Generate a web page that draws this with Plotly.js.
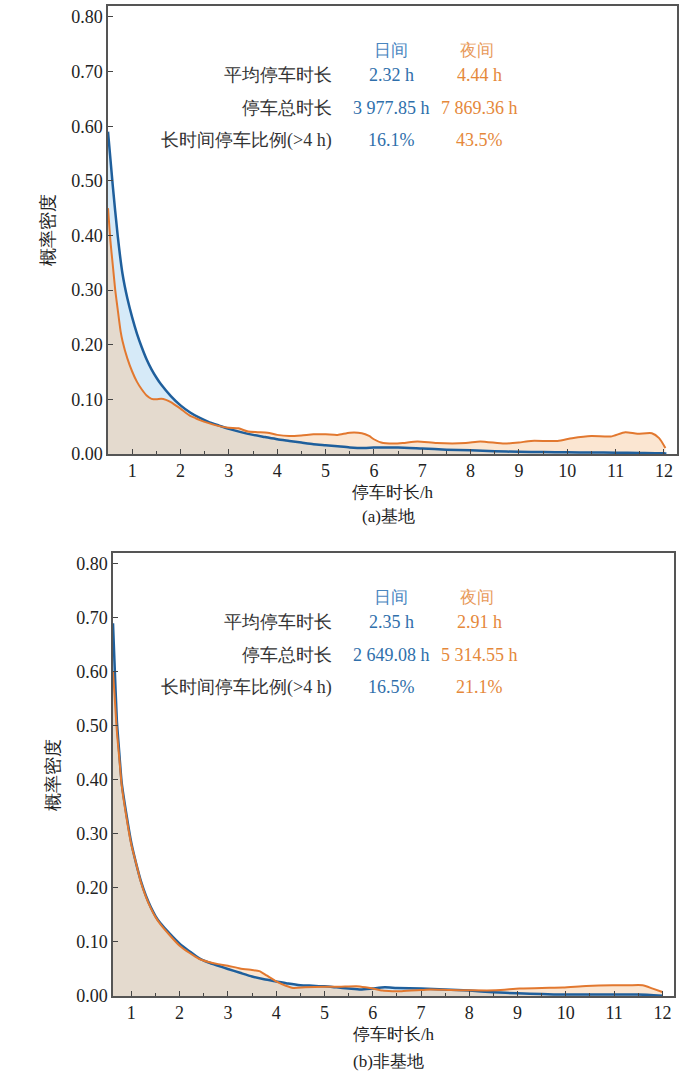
<!DOCTYPE html>
<html>
<head>
<meta charset="utf-8">
<script src="https://cdn.plot.ly/plotly-3.0.1.min.js"></script>
<style>
  html, body { margin: 0; padding: 0; background: #fff; font-family: "Liberation Serif", serif; }
  #chart { width: 700px; height: 1077px; }
</style>
</head>
<body>
<div id="chart"></div>
<script>
// (a) 基地
const baseDayX = [0.5, 0.6, 0.7, 0.8, 0.9, 1.0, 1.1, 1.2, 1.3, 1.4, 1.5, 1.6, 1.8, 2.0, 2.2, 2.4, 2.6, 2.8, 3.0, 3.25, 3.5, 3.75, 4.0, 4.25, 4.5, 4.75, 5.0, 5.25, 5.5, 5.8, 6.0, 6.25, 6.5, 7.0, 7.5, 8.0, 8.5, 9.0, 9.5, 10.0, 10.5, 11.0, 11.5, 12.0, 12.05];
const baseDayY = [0.59, 0.49, 0.40, 0.33, 0.285, 0.25, 0.22, 0.195, 0.173, 0.155, 0.14, 0.127, 0.106, 0.089, 0.076, 0.066, 0.058, 0.052, 0.046, 0.040, 0.035, 0.031, 0.027, 0.024, 0.021, 0.018, 0.016, 0.014, 0.012, 0.011, 0.012, 0.012, 0.012, 0.010, 0.008, 0.007, 0.005, 0.004, 0.0035, 0.003, 0.0028, 0.0025, 0.002, 0.0012, 0.0005];
const baseNightX = [0.5, 0.55, 0.6, 0.65, 0.7, 0.76, 0.8, 0.9, 1.0, 1.1, 1.2, 1.3, 1.4, 1.5, 1.6, 1.7, 1.8, 1.9, 2.0, 2.1, 2.2, 2.3, 2.4, 2.6, 2.8, 3.0, 3.2, 3.4, 3.6, 3.8, 4.0, 4.25, 4.5, 4.75, 5.0, 5.25, 5.5, 5.75, 5.9, 6.0, 6.15, 6.4, 6.6, 6.9, 7.3, 7.9, 8.2, 8.7, 9.0, 9.25, 9.8, 10.1, 10.5, 10.9, 11.2, 11.45, 11.75, 11.9, 12.03];
const baseNightY = [0.45, 0.39, 0.345, 0.30, 0.265, 0.225, 0.207, 0.175, 0.151, 0.132, 0.118, 0.107, 0.101, 0.100, 0.101, 0.099, 0.095, 0.089, 0.083, 0.076, 0.070, 0.066, 0.062, 0.056, 0.051, 0.048, 0.047, 0.041, 0.040, 0.039, 0.035, 0.033, 0.034, 0.036, 0.036, 0.035, 0.039, 0.038, 0.033, 0.027, 0.021, 0.019, 0.020, 0.023, 0.020, 0.020, 0.023, 0.019, 0.021, 0.024, 0.024, 0.029, 0.033, 0.032, 0.040, 0.037, 0.038, 0.029, 0.011];

// (b) 非基地
const otherDayX = [0.62, 0.65, 0.7, 0.75, 0.8, 0.9, 1.0, 1.1, 1.2, 1.3, 1.4, 1.5, 1.6, 1.8, 2.0, 2.2, 2.4, 2.6, 2.8, 3.0, 3.25, 3.5, 3.75, 4.0, 4.25, 4.5, 4.75, 5.0, 5.25, 5.5, 5.75, 6.0, 6.25, 6.5, 7.0, 7.5, 8.0, 8.5, 9.0, 9.5, 10.0, 10.5, 11.0, 11.5, 12.0];
const otherDayY = [0.69, 0.62, 0.51, 0.45, 0.395, 0.335, 0.283, 0.245, 0.212, 0.186, 0.165, 0.148, 0.135, 0.115, 0.097, 0.083, 0.070, 0.062, 0.056, 0.050, 0.043, 0.036, 0.031, 0.027, 0.023, 0.020, 0.019, 0.018, 0.016, 0.014, 0.012, 0.014, 0.016, 0.015, 0.014, 0.012, 0.010, 0.007, 0.005, 0.0035, 0.0026, 0.0026, 0.0026, 0.0026, 0.0005];
const otherNightX = [0.62, 0.65, 0.7, 0.75, 0.8, 0.9, 1.0, 1.1, 1.2, 1.3, 1.4, 1.5, 1.6, 1.8, 2.0, 2.2, 2.4, 2.6, 2.8, 3.0, 3.25, 3.5, 3.65, 3.8, 4.0, 4.2, 4.35, 4.6, 5.0, 5.3, 5.66, 5.85, 6.0, 6.2, 6.4, 6.6, 7.0, 7.2, 7.6, 8.0, 8.55, 9.04, 9.5, 9.94, 10.42, 10.97, 11.3, 11.59, 11.8, 12.0];
const otherNightY = [0.60, 0.56, 0.49, 0.44, 0.39, 0.33, 0.28, 0.245, 0.21, 0.184, 0.163, 0.146, 0.133, 0.112, 0.093, 0.080, 0.069, 0.063, 0.059, 0.056, 0.051, 0.048, 0.046, 0.038, 0.027, 0.019, 0.015, 0.016, 0.017, 0.017, 0.018, 0.016, 0.0137, 0.010, 0.009, 0.009, 0.011, 0.012, 0.011, 0.0105, 0.0105, 0.0137, 0.015, 0.0156, 0.0185, 0.020, 0.020, 0.020, 0.0137, 0.0074];

const xTicks = [1, 2, 3, 4, 5, 6, 7, 8, 9, 10, 11, 12];
const xMinor = [0.5, 1.5, 2.5, 3.5, 4.5, 5.5, 6.5, 7.5, 8.5, 9.5, 10.5, 11.5];
const statLabels = ["平均停车时长", "停车总时长", "长时间停车比例(>4 h)"];
const statHeads = ["日间", "夜间"];
const baseDayStats = ["2.32 h", "3 977.85 h", "16.1%"];
const baseNightStats = ["4.44 h", "7 869.36 h", "43.5%"];
const otherDayStats = ["2.35 h", "2 649.08 h", "16.5%"];
const otherNightStats = ["2.91 h", "5 314.55 h", "21.1%"];
const captions = ["(a)基地", "(b)非基地"];

const W = 700, H = 1077;
const SERIF = "Liberation Serif";
const BLUE = "#1f5f9c";
const ORANGE = "#e2782f";
const BLUE_TXT = "#2f6fab";
const ORANGE_TXT = "#e5883a";

const px = v => v / W;
const py = v => 1 - v / H;

// plot boxes in pixels: [left, right, top, bottom]
const boxA = [108, 677, 6, 454];
const boxB = [113, 674, 553, 996];

function traces(dx, dy, nx, ny, xa, ya) {
  const common = { type: "scatter", mode: "lines", xaxis: xa, yaxis: ya, hoverinfo: "skip" };
  return [
    { ...common, x: dx, y: dy, fill: "tozeroy", fillcolor: "rgb(214,234,248)", line: { width: 0, shape: "spline", smoothing: 0.6 } },
    { ...common, x: nx, y: ny, fill: "tozeroy", fillcolor: "rgba(246,199,155,0.45)", line: { width: 0, shape: "spline", smoothing: 0.6 } },
    { ...common, x: dx, y: dy, line: { color: BLUE, width: 2.5, shape: "spline", smoothing: 0.6 } },
    { ...common, x: nx, y: ny, line: { color: ORANGE, width: 2, shape: "spline", smoothing: 0.6 } }
  ];
}

function xAxis(box, range, anchor) {
  return {
    domain: [px(box[0]), px(box[1])],
    anchor: anchor,
    range: range,
    tickvals: xTicks,
    ticks: "inside",
    ticklen: 5,
    tickcolor: "#444",
    minor: { tickvals: xMinor, ticks: "inside", ticklen: 3, tickcolor: "#444" },
    showline: true,
    mirror: true,
    linecolor: "#555",
    linewidth: 1.5,
    showgrid: false,
    zeroline: false,
    tickfont: { size: 18, color: "#222" },
    title: { text: "停车时长/h", font: { size: 17, color: "#222" }, standoff: 6 }
  };
}

function yAxis(box, anchor) {
  return {
    domain: [py(box[3]), py(box[2])],
    anchor: anchor,
    range: [0, 0.82],
    dtick: 0.1,
    tick0: 0,
    tickformat: ".2f",
    ticks: "inside",
    ticklen: 5,
    tickcolor: "#444",
    showline: true,
    mirror: true,
    linecolor: "#555",
    linewidth: 1.5,
    showgrid: false,
    zeroline: false,
    tickfont: { size: 18, color: "#222" },
    title: { text: "概率密度", font: { size: 18, color: "#222" }, standoff: 12 }
  };
}

function statNotes(box, dayStats, nightStats) {
  const top = box[2];
  const rows = [69, 102, 134];
  const notes = [];
  const base = { xref: "paper", yref: "paper", showarrow: false, yanchor: "middle" };
  notes.push({ ...base, x: px(391), y: py(top + 44), xanchor: "center", text: statHeads[0], font: { size: 17, color: "#4a86bf" } });
  notes.push({ ...base, x: px(477), y: py(top + 44), xanchor: "center", text: statHeads[1], font: { size: 17, color: "#e89a5a" } });
  statLabels.forEach((lab, i) => {
    notes.push({ ...base, x: px(334), y: py(top + rows[i]), xanchor: "right", text: lab, font: { size: 18, color: "#333" } });
    notes.push({ ...base, x: px(391), y: py(top + rows[i]), xanchor: "center", text: dayStats[i], font: { size: 18, color: BLUE_TXT } });
    notes.push({ ...base, x: px(479), y: py(top + rows[i]), xanchor: "center", text: nightStats[i], font: { size: 18, color: ORANGE_TXT } });
  });
  return notes;
}

const data = [
  ...traces(baseDayX, baseDayY, baseNightX, baseNightY, "x", "y"),
  ...traces(otherDayX, otherDayY, otherNightX, otherNightY, "x2", "y2")
];

const layout = {
  width: W,
  height: H,
  margin: { l: 0, r: 0, t: 0, b: 0 },
  paper_bgcolor: "#fff",
  plot_bgcolor: "rgba(0,0,0,0)",
  showlegend: false,
  font: { family: SERIF, size: 18, color: "#222" },
  xaxis: xAxis(boxA, [0.5, 12.27], "y"),
  yaxis: yAxis(boxA, "x"),
  xaxis2: xAxis(boxB, [0.62, 12.24], "y2"),
  yaxis2: yAxis(boxB, "x2"),
  annotations: [
    ...statNotes(boxA, baseDayStats, baseNightStats),
    ...statNotes(boxB, otherDayStats, otherNightStats),
    { xref: "paper", yref: "paper", x: px(388), y: py(516), xanchor: "center", yanchor: "middle", showarrow: false, text: captions[0], font: { size: 17, color: "#222" } },
    { xref: "paper", yref: "paper", x: px(388), y: py(1061), xanchor: "center", yanchor: "middle", showarrow: false, text: captions[1], font: { size: 17, color: "#222" } }
  ]
};

Plotly.newPlot("chart", data, layout, { displayModeBar: false });
</script>
</body>
</html>
